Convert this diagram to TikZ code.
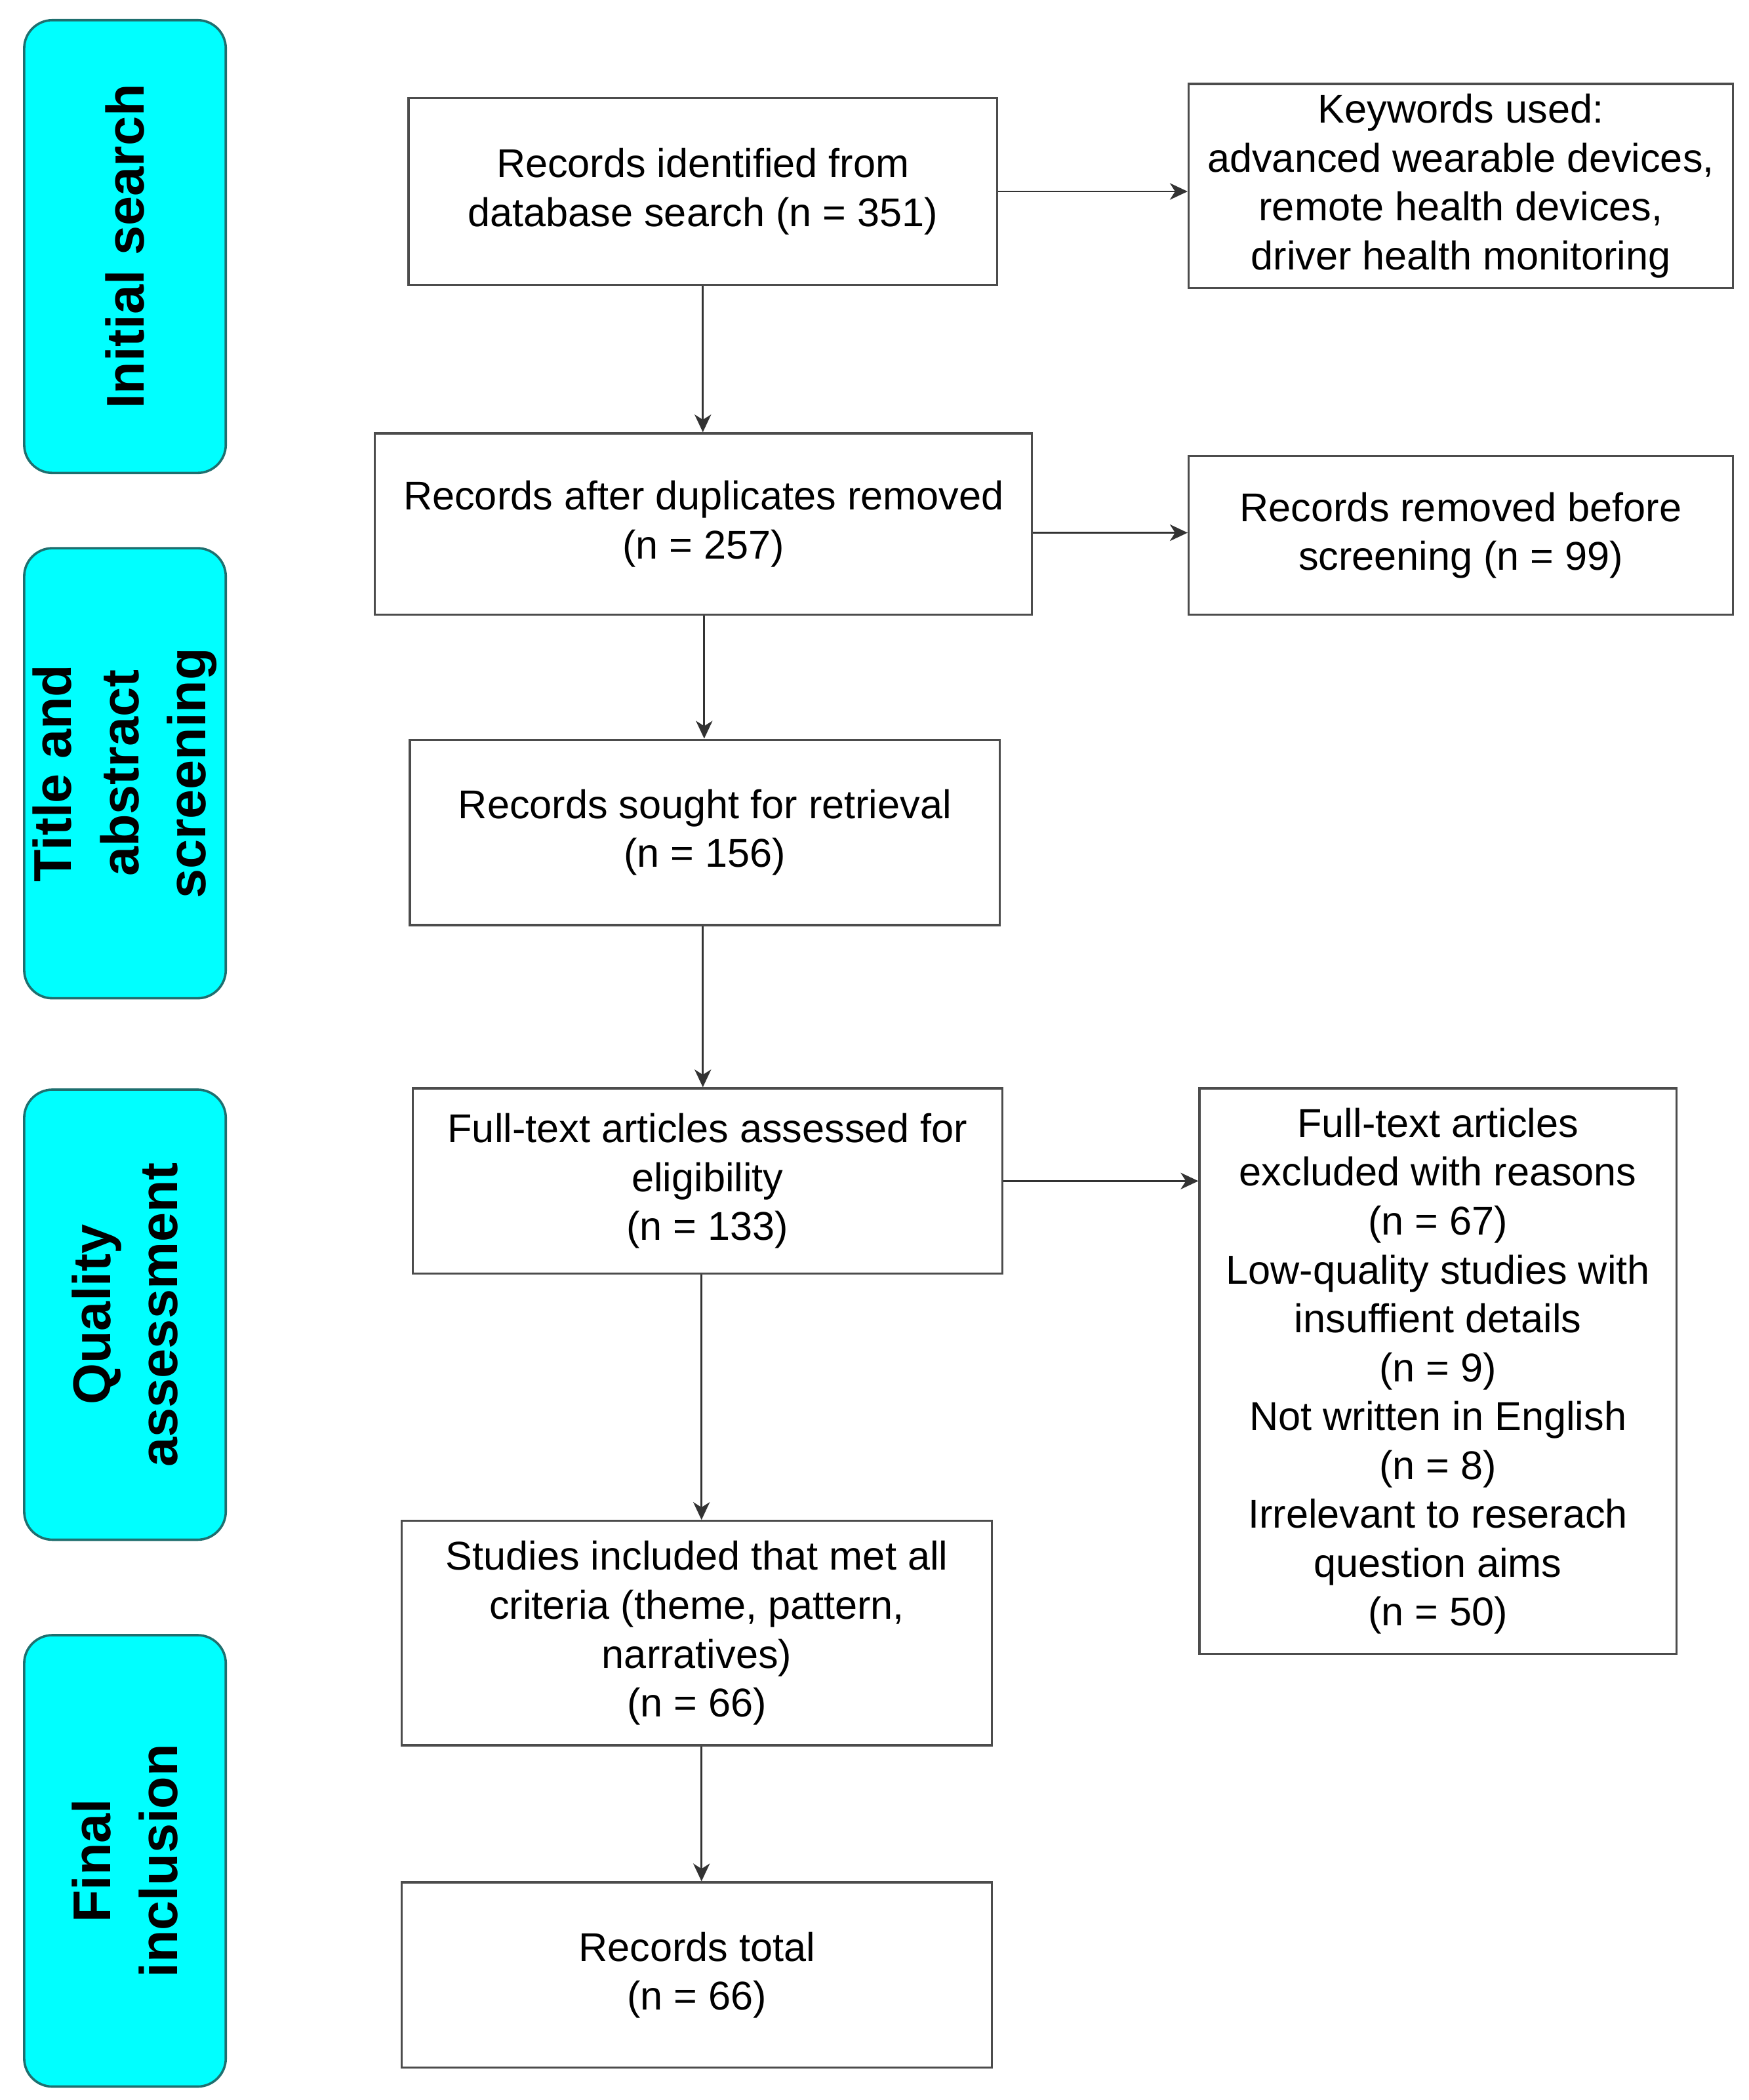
\documentclass[tikz,border=0pt]{standalone}
\usepackage{fontspec}
\setmainfont{Liberation Sans}
\usetikzlibrary{arrows.meta}
\definecolor{phasefill}{HTML}{00FFFF}
\definecolor{phaseline}{HTML}{1F6F6F}
\tikzset{
  phase/.style={draw=phaseline, line width=1pt, fill=phasefill, rounded corners=0.42cm,
    rotate=90, minimum height=3.0cm, align=center, inner sep=0pt,
    font=\fontsize{22.5}{28.5}\selectfont\bfseries},
  box/.style={draw=black!70, line width=0.9pt, fill=white, align=center, inner sep=0pt,
    font=\fontsize{17}{20.7}\selectfont},
  arr/.style={draw=black!80, line width=0.8pt, -{Stealth[length=7.5pt,width=7pt,inset=2.2pt]}}
}
\begin{document}
\begin{tikzpicture}
\useasboundingbox (0,0) rectangle (26.02,-31.26);
% phase labels
\node[phase, minimum width=6.74cm] (p1) at (1.86,-3.67) {Initial search};
\node[phase, minimum width=6.70cm] (p2) at (1.86,-11.51) {Title and\\abstract\\screening};
\node[phase, minimum width=6.70cm] (p3) at (1.86,-19.57) {Quality\\assessment};
\node[phase, minimum width=6.72cm] (p4) at (1.86,-27.70) {Final\\inclusion};
% main boxes
\node[box, minimum width=8.76cm, minimum height=2.78cm] (b1) at (10.46,-2.85) {Records identified from\\database search (n = 351)};
\node[box, minimum width=8.10cm, minimum height=3.04cm] (kw) at (21.74,-2.77) {Keywords used:\\advanced wearable devices,\\remote health devices,\\driver health monitoring};
\node[box, minimum width=9.78cm, minimum height=2.70cm] (b2) at (10.47,-7.80) {Records after duplicates removed\\(n = 257)};
\node[box, minimum width=8.10cm, minimum height=2.36cm] (rm) at (21.74,-7.97) {Records removed before\\screening (n = 99)};
\node[box, minimum width=8.78cm, minimum height=2.76cm] (b3) at (10.49,-12.39) {Records sought for retrieval\\(n = 156)};
\node[box, minimum width=8.78cm, minimum height=2.76cm] (b4) at (10.53,-17.58) {Full-text articles assessed for\\eligibility\\(n = 133)};
\node[box, minimum width=7.10cm, minimum height=8.42cm] (ex) at (21.40,-20.41) {Full-text articles\\excluded with reasons\\(n = 67)\\Low-quality studies with\\insuffient details\\(n = 9)\\Not written in English\\(n = 8)\\Irrelevant to reserach\\question aims\\(n = 50)};
\node[box, minimum width=8.78cm, minimum height=3.34cm] (b5) at (10.37,-24.31) {Studies included that met all\\criteria (theme, pattern,\\narratives)\\(n = 66)};
\node[box, minimum width=8.78cm, minimum height=2.76cm] (b6) at (10.37,-29.40) {Records total\\(n = 66)};
% connectors
\coordinate (v1) at (10.46,0);
\coordinate (v2) at (10.48,0);
\coordinate (v3) at (10.46,0);
\coordinate (v4) at (10.44,0);
\coordinate (v5) at (10.44,0);
\draw[arr] (b1.south -| v1) -- (b2.north -| v1);
\draw[arr] (b2.south -| v2) -- (b3.north -| v2);
\draw[arr] (b3.south -| v3) -- (b4.north -| v3);
\draw[arr] (b4.south -| v4) -- (b5.north -| v4);
\draw[arr] (b5.south -| v5) -- (b6.north -| v5);
\draw[arr] (b1.east) -- (b1.east -| kw.west);
\draw[arr] (rm.west -| b2.east) ++(0,0.04) coordinate (h2) -- (h2 -| rm.west);
\draw[arr] (b4.east) -- (b4.east -| ex.west);
\end{tikzpicture}
\end{document}
